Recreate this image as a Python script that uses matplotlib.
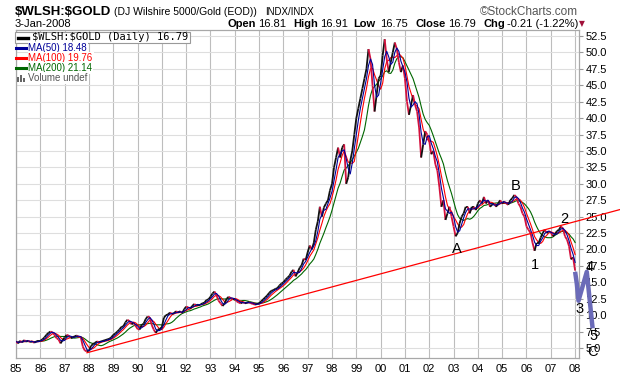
import numpy as np
import pandas as pd
import matplotlib
matplotlib.use('Agg')
from matplotlib import pyplot as plt
from matplotlib.collections import LineCollection
from matplotlib.lines import Line2D
from matplotlib.patches import Rectangle

# $WLSH:$GOLD monthly closes, Jan 1985 .. Jan 2008
ratio = [
    6.0, 5.7, 6.1, 5.9, 6.2, 6.0, 6.1, 5.9, 6.0, 5.8, 6.0, 6.1,           # 85
    6.1, 6.3, 6.6, 7.0, 7.3, 7.5, 7.4, 7.0, 6.5, 6.3, 5.7, 6.2,           # 86
    6.6, 7.0, 6.9, 6.5, 6.6, 6.8, 6.9, 6.7, 6.6, 5.2, 4.6, 4.5,           # 87
    4.6, 5.3, 5.6, 5.8, 6.0, 5.9, 6.0, 6.1, 6.2, 6.3, 6.4, 6.6,           # 88
    7.0, 7.2, 7.5, 7.8, 8.2, 8.3, 8.9, 9.3, 9.1, 8.6, 8.8, 8.4,           # 89
    7.9, 7.8, 8.5, 8.7, 9.4, 9.8, 9.7, 8.5, 7.8, 7.3, 7.8, 7.9,           # 90
    8.2, 9.6, 10.0, 10.1, 10.4, 10.2, 10.3, 10.6, 10.4, 10.6, 10.3, 10.9,  # 91
    11.3, 11.2, 11.0, 11.4, 11.7, 11.5, 11.6, 11.6, 11.8, 11.9, 12.3, 12.4,  # 92
    12.8, 13.3, 13.6, 13.0, 12.2, 11.8, 11.4, 11.8, 12.5, 12.8, 12.6, 12.4,  # 93
    12.4, 12.1, 11.9, 11.8, 12.0, 11.8, 11.9, 12.0, 11.8, 11.7, 11.6, 11.7,  # 94
    11.8, 12.1, 12.4, 12.7, 13.0, 13.4, 13.7, 13.8, 14.0, 14.1, 14.5, 14.8,  # 95
    15.0, 15.4, 15.7, 16.0, 16.6, 16.9, 15.9, 16.5, 17.2, 17.6, 18.6, 18.4,  # 96
    19.6, 20.6, 20.0, 21.0, 23.0, 24.3, 26.5, 25.0, 26.4, 27.0, 27.5, 29.0,  # 97
    30.0, 32.5, 34.0, 35.5, 34.0, 35.5, 36.0, 30.0, 31.0, 33.5, 35.0, 37.5,  # 98
    40.0, 41.5, 43.0, 44.5, 46.0, 47.5, 50.5, 49.0, 45.0, 41.0, 43.5, 46.0,  # 99
    46.5, 49.5, 52.0, 49.0, 47.0, 48.5, 50.0, 51.5, 50.5, 48.5, 47.0, 48.0,  # 00
    46.0, 42.5, 40.5, 42.0, 43.5, 42.0, 41.0, 38.5, 34.0, 36.0, 38.0, 37.5,  # 01
    36.5, 34.5, 35.0, 33.0, 32.0, 29.5, 26.5, 27.5, 24.5, 25.5, 26.5, 25.0,  # 02
    23.5, 22.0, 22.5, 24.0, 25.0, 25.5, 26.5, 26.5, 25.5, 26.5, 26.5, 26.0,  # 03
    27.0, 27.5, 27.0, 28.0, 27.0, 27.5, 26.5, 26.8, 27.0, 26.5, 27.0, 27.5,  # 04
    27.0, 27.3, 27.0, 26.8, 27.5, 27.8, 28.3, 28.0, 27.0, 26.5, 25.5, 25.0,  # 05
    23.5, 23.0, 22.5, 21.0, 19.8, 21.0, 21.0, 21.8, 22.5, 23.0, 22.5, 22.8,  # 06
    22.6, 22.0, 22.3, 22.8, 23.0, 23.5, 23.2, 22.0, 21.5, 20.5, 18.5, 18.8,  # 07
    16.79,                                                                   # 08
]
first_year = 1985
ma_windows = {'MA(50)': 3, 'MA(100)': 5, 'MA(200)': 10}   # in months
ma_colors = {'MA(50)': '#000099', 'MA(100)': '#ff0000', 'MA(200)': '#006600'}
ma_last = {'MA(50)': '18.48', 'MA(100)': '19.76', 'MA(200)': '21.14'}

# hand drawn trend line and wave count
trend_x = [1987.92, 2010.0]
trend_y = [4.28, 26.23]
wave_x = [2008.0, 2008.07, 2008.14, 2008.48, 2008.72]
wave_y = [16.6, 14.8, 12.2, 16.6, 8.0]
wave_labels = ['A', 'B', '1', '2', '3', '4', '5', 'C']
wave_lx = [2003.13, 2005.57, 2006.35, 2007.55, 2008.18, 2008.59, 2008.76, 2008.72]
wave_ly = [20.1, 29.7, 17.6, 24.6, 11.0, 17.4, 6.8, 4.4]

year_ticks = list(range(1985, 2009))
price_ticks = np.arange(5.0, 52.6, 2.5)

W, H = 620, 376
sans = ['Liberation Sans', 'DejaVu Sans']


def fx(x):
    return x / W


def fy(y):
    return 1 - y / H


fig = plt.figure(figsize=(W / 100, H / 100), dpi=100)
ax = fig.add_axes([fx(16), 18 / H, 563 / W, 328 / H])

t = first_year + np.arange(len(ratio)) / 12
s = pd.Series(ratio)

for z, name in enumerate(['MA(200)', 'MA(100)', 'MA(50)']):
    ma = s.rolling(ma_windows[name], min_periods=1).mean()
    ax.plot(t, ma, color=ma_colors[name], lw=0.8, zorder=3 + z)

# price line: black where rising, crimson where falling (like the daily bars)
pts = np.column_stack([t, ratio])
segs = np.stack([pts[:-1], pts[1:]], axis=1)
cols = ['#111111' if b >= a else '#d4103c' for a, b in zip(ratio[:-1], ratio[1:])]
ax.add_collection(LineCollection(segs, colors=cols, linewidths=1.3, zorder=4.5))

ax.plot(trend_x, trend_y, color='#ff0000', lw=0.9, clip_on=False, zorder=6)
ax.plot(wave_x, wave_y, color='#6b6bb8', lw=3.2, clip_on=False, zorder=6,
        solid_capstyle='butt')
for lab, lx, ly in zip(wave_labels, wave_lx, wave_ly):
    ax.text(lx, ly, lab, ha='center', va='center', fontsize=10.5, family=sans,
            color='black', clip_on=False, zorder=7)

ax.set_xlim(1985, 2008.16)
ax.set_ylim(3.48, 53.41)
ax.set_xticks(year_ticks)
ax.set_xticklabels(['%02d' % (y % 100) for y in year_ticks])
ax.set_yticks(price_ticks)
ax.set_yticklabels(['%.1f' % v for v in price_ticks])
ax.yaxis.tick_right()
ax.tick_params(axis='y', length=3, width=0.8, color='#999999', pad=1.5,
               labelsize=8)
ax.tick_params(axis='x', length=0, pad=4, labelsize=8)
for lab in ax.get_xticklabels() + ax.get_yticklabels():
    lab.set_family(sans)
ax.grid(axis='x', color='#bdbdbd', lw=0.8)
ax.grid(axis='y', color='#dedede', lw=0.8)
ax.set_axisbelow(True)
for sp in ax.spines.values():
    sp.set_color('#a8a8a8')
    sp.set_linewidth(0.9)

# header
fig.text(fx(15), fy(12), r'\$WLSH:\$GOLD', fontsize=9.5, weight='bold',
         family=sans, va='center')
fig.text(fx(114), fy(12), '(DJ Wilshire 5000/Gold (EOD))', fontsize=7.5,
         family=sans, va='center')
fig.text(fx(265), fy(12), 'INDX/INDX', fontsize=7, family=sans, va='center')
fig.text(fx(578), fy(12), '\u00a9StockCharts.com', fontsize=8.5, family=sans,
         color='#555555', va='center', ha='right')
fig.text(fx(15), fy(24), '3-Jan-2008', fontsize=8, family=sans, va='center')
quote = [(227, 'Open', 'bold'), (258, '16.81', 'normal'),
         (293, 'High', 'bold'), (320, '16.91', 'normal'),
         (353, 'Low', 'bold'), (380, '16.75', 'normal'),
         (415, 'Close', 'bold'), (448, '16.79', 'normal'),
         (483, 'Chg', 'bold'), (507, '-0.21 (-1.22%)', 'normal')]
for x, txt, w in quote:
    fig.text(fx(x), fy(24), txt, fontsize=8, weight=w, family=sans, va='center')
fig.text(fx(582), fy(24), '\u25bc', fontsize=5.5, color='#a0103a',
         ha='center', va='center', family=['DejaVu Sans'])

# legend
fig.add_artist(Rectangle((fx(15), fy(43)), 175 / W, 11 / H, transform=fig.transFigure,
                         facecolor='white', edgecolor='#999999', lw=0.8, zorder=8))
fig.add_artist(Line2D([fx(18), fx(28)], [fy(37.5)] * 2, color='black', lw=2.4, zorder=9))
fig.text(fx(32), fy(37.5), r'\$WLSH:\$GOLD (Daily) 16.79', fontsize=7.5,
         family=['DejaVu Sans Mono'], va='center', zorder=9)
for i, name in enumerate(['MA(50)', 'MA(100)', 'MA(200)']):
    y = 48.3 + 10 * i
    fig.add_artist(Line2D([fx(16), fx(27)], [fy(y)] * 2, color=ma_colors[name],
                          lw=2.2, zorder=9))
    fig.text(fx(28.5), fy(y), '%s %s' % (name, ma_last[name]), fontsize=7,
             family=sans, color=ma_colors[name], va='center', zorder=9,
             bbox=dict(facecolor='white', edgecolor='none', pad=0.6))
for bx, bh in zip([17, 20, 23], [5, 7, 4]):
    fig.add_artist(Rectangle((fx(bx), fy(82)), 2 / W, bh / H, transform=fig.transFigure,
                             facecolor='#666666', edgecolor='none', zorder=9))
fig.text(fx(28.5), fy(78.3), 'Volume undef', fontsize=7, family=sans,
         color='#555555', va='center', zorder=9,
         bbox=dict(facecolor='white', edgecolor='none', pad=0.6))

fig.savefig('out.png', dpi=100)
